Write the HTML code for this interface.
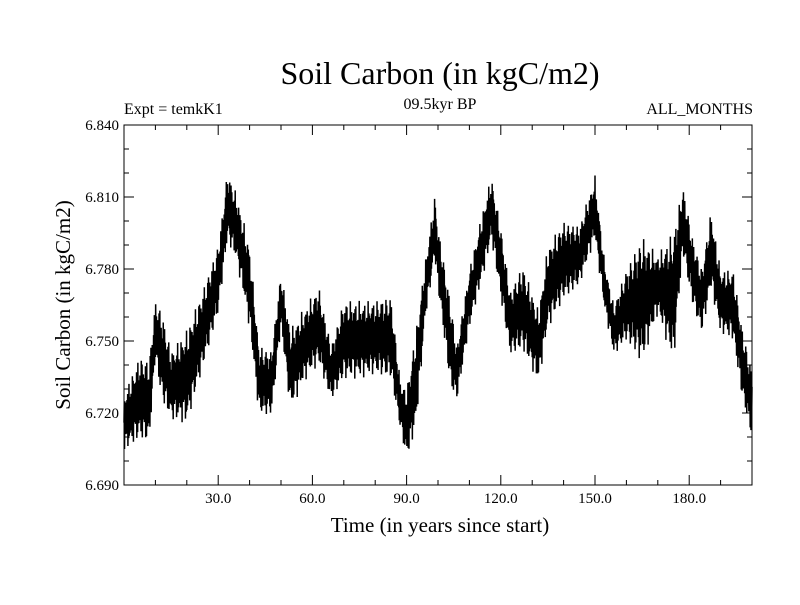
<!DOCTYPE html>
<html><head><meta charset="utf-8"><style>
body{margin:0;background:#fff}
svg text{font-family:"Liberation Serif",serif;fill:#000}
</style></head><body>
<svg id="chart" width="800" height="600">
<rect width="800" height="600" fill="#fff"/>
<text x="440" y="84" font-size="32" text-anchor="middle">Soil Carbon (in kgC/m2)</text>
<text x="124" y="114" font-size="16">Expt = temkK1</text>
<text x="440" y="109" font-size="16" text-anchor="middle">09.5kyr BP</text>
<text x="753" y="114" font-size="16" text-anchor="end">ALL_MONTHS</text>
<text x="440" y="532" font-size="21" text-anchor="middle">Time (in years since start)</text>
<text transform="translate(70,305) rotate(-90)" font-size="21" text-anchor="middle">Soil Carbon (in kgC/m2)</text>
<g id="axes"></g>
<path id="series" fill="none" stroke="#000" stroke-width="1.5"/>
<rect x="124" y="125" width="628" height="360" fill="none" stroke="#000" stroke-width="1"/>
</svg>
<script>
const years=[0,5,8,10,12,15,20,25,30,33,36,40,43,47,50,53,58,62,66,70,75,80,85,88,90,93,96,99,100,104,106,110,115,117,120,123,127,132,135,140,145,150,153,156,160,165,170,175,178,181,184,187,190,194,197,200];
const upper=[6.728,6.744,6.742,6.767,6.763,6.746,6.755,6.771,6.790,6.821,6.811,6.790,6.748,6.746,6.779,6.755,6.765,6.773,6.748,6.767,6.767,6.767,6.769,6.734,6.730,6.755,6.784,6.811,6.798,6.767,6.748,6.780,6.809,6.819,6.798,6.771,6.782,6.763,6.790,6.800,6.798,6.819,6.784,6.765,6.780,6.794,6.786,6.796,6.815,6.794,6.780,6.805,6.780,6.780,6.755,6.738];
const lower=[6.704,6.709,6.707,6.742,6.725,6.717,6.715,6.738,6.761,6.792,6.782,6.755,6.719,6.719,6.755,6.721,6.734,6.740,6.725,6.734,6.734,6.736,6.734,6.713,6.700,6.713,6.759,6.784,6.771,6.730,6.725,6.755,6.780,6.792,6.767,6.744,6.746,6.732,6.755,6.767,6.773,6.792,6.763,6.744,6.750,6.740,6.761,6.740,6.786,6.765,6.753,6.771,6.753,6.750,6.725,6.709];
const yTicks=[6.690,6.720,6.750,6.780,6.810,6.840];
const xTicks=[30,60,90,120,150,180];
const X0=124,X1=752,Y0=485,Y1=125,XMIN=0,XMAX=200,YMIN=6.69,YMAX=6.84;
const sx=v=>X0+(v-XMIN)/(XMAX-XMIN)*(X1-X0);
const sy=v=>Y0-(v-YMIN)/(YMAX-YMIN)*(Y0-Y1);
const NS="http://www.w3.org/2000/svg";
const ax=document.getElementById('axes');
function line(x1,y1,x2,y2,name){const l=document.createElementNS(NS,'line');l.setAttribute('x1',x1);l.setAttribute('y1',y1);l.setAttribute('x2',x2);l.setAttribute('y2',y2);l.setAttribute('stroke','#000');


ax.appendChild(l);}
function text(x,y,s,anchor,name){const t=document.createElementNS(NS,'text');t.setAttribute('x',x);t.setAttribute('y',y);t.setAttribute('font-size','15');t.setAttribute('text-anchor',anchor);t.textContent=s;


ax.appendChild(t);}
for(let v=10;v<XMAX;v+=10){const major=v%30===0;const x=sx(v);line(x,Y0,x,Y0-(major?10:5),'x-tick');line(x,Y1,x,Y1+(major?10:5),'x-tick-top');}
for(let k=1;k<15;k++){const v=YMIN+k*0.01;const major=k%3===0;const y=sy(v);line(X0,y,X0+(major?10:5),y,'y-tick');line(X1,y,X1-(major?10:5),y,'y-tick-right');}
xTicks.forEach(v=>text(sx(v),503,v.toFixed(1),'middle','x-tick-label'));
yTicks.forEach(v=>text(X0-5,sy(v)+5,v.toFixed(3),'end','y-tick-label'));
function interp(arr,t){let i=0;while(i<years.length-2&&years[i+1]<t)i++;const f=(t-years[i])/(years[i+1]-years[i]);return arr[i]+(arr[i+1]-arr[i])*Math.max(0,Math.min(1,f));}
let d='';const N=2400;
for(let m=0;m<=N;m++){const t=m/12;const u=interp(upper,t),l=interp(lower,t);
const f=0.5+0.5*Math.sin(m*2.399)*(0.75+0.25*Math.cos(m*0.37));
const v=l+(u-l)*f;d+=(m?'L':'M')+sx(t).toFixed(2)+' '+sy(v).toFixed(2);}
document.getElementById('series').setAttribute('d',d);
</script>
</body></html>
